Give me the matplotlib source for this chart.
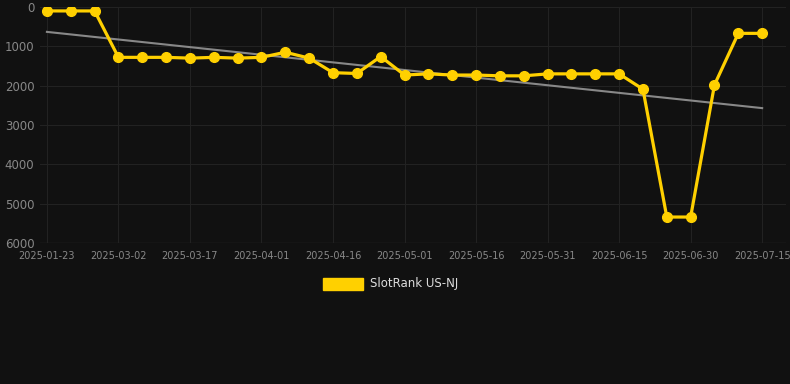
import matplotlib
matplotlib.use("Agg")
import matplotlib.pyplot as plt
import numpy as np

dates = ["2025-01-23", "2025-02-06", "2025-02-20", "2025-03-02", "2025-03-07", "2025-03-12",
         "2025-03-17", "2025-03-22", "2025-03-27", "2025-04-01", "2025-04-06", "2025-04-11",
         "2025-04-16", "2025-04-21", "2025-04-26", "2025-05-01", "2025-05-06", "2025-05-11",
         "2025-05-16", "2025-05-21", "2025-05-26", "2025-05-31", "2025-06-05", "2025-06-10",
         "2025-06-15", "2025-06-20", "2025-06-25", "2025-06-30", "2025-07-05", "2025-07-10",
         "2025-07-15"]
ranks = [100, 100, 100, 1280, 1280, 1280, 1300, 1280, 1300, 1280, 1150, 1300,
         1670, 1690, 1260, 1730, 1700, 1730, 1730, 1750, 1750, 1700, 1700, 1700,
         1700, 2090, 5340, 5340, 1980, 670, 670]
series_name = "SlotRank US-NJ"

BG = "#111111"
fig = plt.figure(figsize=(7.9, 3.84), dpi=100, facecolor=BG)
ax = fig.add_axes([40/790, (384-243)/384, (786-40)/790, (243-7)/384], facecolor=BG)

x = np.arange(len(dates))
coef = np.polyfit(x, ranks, 1)
ax.plot(x, np.polyval(coef, x), color="#888888", lw=1.5, zorder=2)
ax.plot(x, ranks, color="#FFD000", lw=2.3, marker="o", markersize=7, zorder=3)

ax.set_ylim(6000, 0)
ax.set_yticks([0, 1000, 2000, 3000, 4000, 5000, 6000])
ax.set_xlim(-0.29, 31.0)
ticks = x[::3]
ax.set_xticks(ticks)
ax.set_xticklabels([dates[i] for i in ticks])
ax.tick_params(axis="x", colors="#888888", labelsize=7, length=0, pad=6)
ax.tick_params(axis="y", colors="#888888", labelsize=8.5, length=0, pad=4)
ax.grid(True, color="#222222", lw=0.8)
for s in ax.spines.values():
    s.set_visible(False)
ax.axhline(6000, color="#2a2a2a", lw=1, zorder=1)

# legend
fig.patches.append(plt.Rectangle((323/790, 1-290/384), 40/790, 12/384,
                                 transform=fig.transFigure, color="#FFD000"))
fig.text(370/790, 1-284/384, series_name, color="#dddddd", fontsize=8.5, va="center", ha="left")

fig.savefig("out.png", dpi=100, facecolor=BG)
